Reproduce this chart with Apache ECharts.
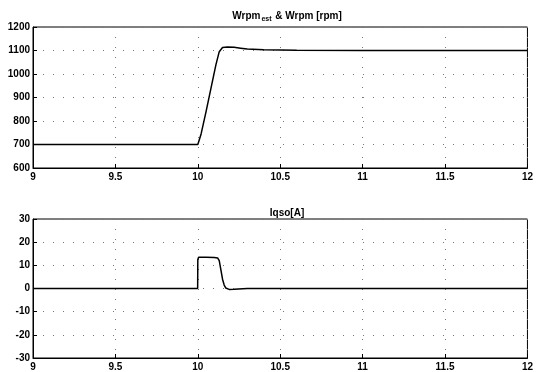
<!DOCTYPE html>
<html>
<head>
<meta charset="utf-8">
<script src="https://cdn.jsdelivr.net/npm/echarts@6/dist/echarts.min.js"></script>
<style>
html, body { margin: 0; padding: 0; background: #fff; }
#main { width: 536px; height: 372px; }
</style>
</head>
<body>
<div id="main"></div>
<script>
// speed (rpm) trace
var speedT = [9, 9.5, 10.0, 10.02, 10.05, 10.08, 10.11, 10.13, 10.15, 10.18, 10.22, 10.26, 10.3, 10.4, 10.6, 11, 11.5, 12];
var speedV = [700, 700, 700, 745, 840, 940, 1040, 1095, 1113, 1115, 1114, 1110, 1106, 1103, 1101, 1100, 1100, 1100];

// q-axis current trace
var iqT = [9, 9.5, 9.999, 10.0, 10.005, 10.05, 10.1, 10.12, 10.13, 10.14, 10.15, 10.16, 10.17, 10.19, 10.22, 10.3, 11, 12];
var iqV = [0, 0, 0, 12.5, 13.5, 13.5, 13.4, 13.2, 12, 8, 4, 1.5, 0.2, -0.4, -0.3, 0, 0, 0];

function pairs(t, v) {
	var res = [];
	for (var i = 0; i < t.length; i++) {
		res.push([t[i], v[i]]);
	}
	return res;
}

var font = 'Liberation Sans, Arial, sans-serif';
var lab = { color: '#000', fontSize: 10, fontWeight: 'bold', fontFamily: font };
var dots = { show: true, lineStyle: { color: '#777', type: [1, 9], width: 1 } };

function xAxis(idx) {
	return {
		type: 'value', gridIndex: idx, min: 9, max: 12, interval: 0.5,
		axisLine: { show: true, onZero: false, lineStyle: { color: '#000', width: 1 } },
		axisTick: { show: true, inside: true, length: 4, lineStyle: { color: '#000' } },
		axisLabel: Object.assign({ margin: 4, formatter: function (v) { return String(v); } }, lab),
		splitLine: dots
	};
}

function yAxis(idx, min, max, interval) {
	return {
		type: 'value', gridIndex: idx, min: min, max: max, interval: interval,
		axisLine: { show: true, lineStyle: { color: '#000', width: 1 } },
		axisTick: { show: true, inside: true, length: 4, lineStyle: { color: '#000' } },
		axisLabel: Object.assign({ margin: 3, formatter: function (v) { return String(v); } }, lab),
		splitLine: dots
	};
}

var option = {
	animation: false,
	backgroundColor: '#fff',
	title: [{
		text: '{a|Wrpm}{s|est}{a| & Wrpm [rpm]}',
		left: 282, top: 4, textAlign: 'center',
		textStyle: {
			rich: {
				a: { fontSize: 10, fontFamily: font, color: '#000' },
				s: { fontSize: 7, fontFamily: font, color: '#000', fontWeight: 'bold', padding: [7, 1, 0, 1] }
			}
		}
	}, {
		text: 'Iqso[A]',
		left: 282, top: 203, textAlign: 'center',
		textStyle: { fontSize: 10, fontWeight: 'bold', fontFamily: font, color: '#000' }
	}],
	grid: [
		{ left: 33, right: 4, top: 27, height: 141, show: true, borderColor: '#000', borderWidth: 1 },
		{ left: 33, right: 4, top: 219, height: 140, show: true, borderColor: '#000', borderWidth: 1 }
	],
	xAxis: [xAxis(0), xAxis(1)],
	yAxis: [yAxis(0, 600, 1200, 100), yAxis(1, -30, 30, 10)],
	series: [{
		type: 'line', xAxisIndex: 0, yAxisIndex: 0, showSymbol: false,
		data: pairs(speedT, speedV),
		lineStyle: { color: '#000', width: 1.5 }
	}, {
		type: 'line', xAxisIndex: 1, yAxisIndex: 1, showSymbol: false,
		data: pairs(iqT, iqV),
		lineStyle: { color: '#000', width: 1.5 }
	}]
};

var myChart = echarts.init(document.getElementById('main'));
myChart.setOption(option);
</script>
</body>
</html>
